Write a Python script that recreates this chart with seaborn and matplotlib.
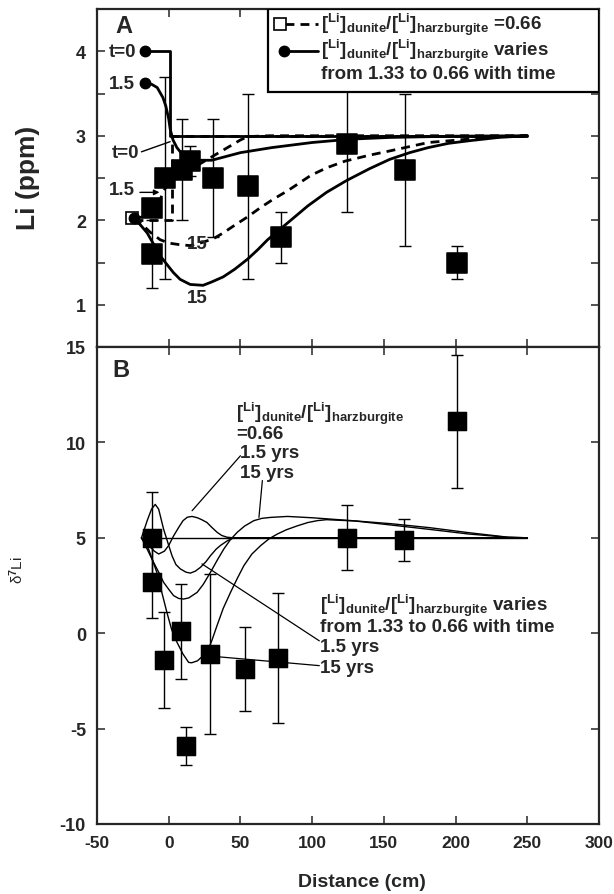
import numpy as np
import pandas as pd
import matplotlib
matplotlib.use('Agg')
import matplotlib.pyplot as plt
import seaborn as sns
from matplotlib.patches import Rectangle

# ---------------- data ----------------
# Panel A : Li concentration (ppm)
a_x = [-12, -12, -2.5, 9, 15, 31, 55, 78.5, 124, 165, 201]
a_li = [1.6, 2.15, 2.5, 2.6, 2.7, 2.5, 2.4, 1.8, 2.9, 2.6, 1.5]
a_err = [0.4, 0.0, 1.2, 0.6, 0.18, 0.7, 1.1, 0.3, 0.8, 0.9, 0.2]

# model curves, panel A (ratio varies : solid)
a_var_t0_x = [-16.4, 1, 1, 250]
a_var_t0_y = [4.0, 4.0, 3.0, 3.0]
a_var_15_x = [-16.4, -12, -8, -4, -2, 0, 1, 3, 5.7, 9, 12.7, 16, 20, 30, 50, 72, 100, 127, 154, 200, 250]
a_var_15_y = [3.62, 3.61, 3.57, 3.45, 3.35, 3.2, 3.08, 2.95, 2.86, 2.79, 2.74, 2.71, 2.71, 2.71, 2.80, 2.86,
              2.92, 2.96, 2.98, 2.995, 3.0]
a_var_150_x = [-24, -20, -15, -10, -6, 0, 3.3, 8, 15, 24, 30, 38, 46, 55, 62, 69, 76, 83, 90, 97, 110, 124,
               140, 154, 168, 181, 195, 209, 230, 250]
a_var_150_y = [2.03, 1.95, 1.85, 1.7, 1.58, 1.45, 1.38, 1.3, 1.24, 1.23, 1.27, 1.33, 1.42, 1.54, 1.65, 1.77,
               1.87, 1.97, 2.07, 2.17, 2.33, 2.47, 2.61, 2.72, 2.8, 2.86, 2.91, 2.94, 2.98, 3.0]
# model curves, panel A (ratio constant 0.66 : dashed)
a_con_t0_x = [-24, 2, 2, 250]
a_con_t0_y = [2.0, 2.0, 3.0, 3.0]
a_con_15_x = [-24, -15, -8, -4, 0, 3, 8, 15, 22, 30, 40, 50, 55, 70, 250]
a_con_15_y = [2.02, 2.05, 2.15, 2.33, 2.45, 2.55, 2.6, 2.63, 2.67, 2.75, 2.85, 2.95, 2.99, 3.0, 3.0]
a_con_150_x = [-24, -18, -13, -6, 0, 8, 15, 22, 31, 38, 45, 55, 64, 73, 83, 99, 110, 123, 140, 154, 181,
               209, 230, 250]
a_con_150_y = [2.03, 1.94, 1.86, 1.77, 1.73, 1.71, 1.70, 1.73, 1.78, 1.85, 1.93, 2.04, 2.15, 2.25, 2.35,
               2.53, 2.62, 2.70, 2.77, 2.82, 2.92, 2.96, 2.985, 3.0]

# Panel B : delta7Li
b_x = [-12, -12, -3.5, 8.5, 12, 29, 53, 76.5, 124, 164, 201]
b_d = [5.0, 2.7, -1.4, 0.1, -5.9, -1.1, -1.9, -1.3, 5.0, 4.9, 11.1]
b_err = [2.4, 1.9, 2.5, 2.5, 1.0, 4.2, 2.2, 3.4, 1.7, 1.1, 3.5]

b_t0_x = [-19, 250]
b_t0_y = [5.0, 5.0]
b_var_15_x = [-19, -15, -12, -9.4, -7, -3.6, 0, 2.3, 5, 8.1, 12, 15.1, 18.5, 22.1, 26, 29.1, 33, 36.1, 41,
              45.4, 250]
b_var_15_y = [5.0, 5.9, 6.5, 6.75, 6.5, 5.46, 4.6, 4.06, 3.6, 3.37, 3.2, 3.15, 3.25, 3.45, 3.75, 4.06, 4.4,
              4.6, 4.85, 5.0, 5.0]
b_con_15_x = [-19, -14, -10, -7, -3, 0, 3.4, 7, 10, 13, 16.3, 20, 23, 26.7, 30, 33.7, 37, 40.7, 45, 250]
b_con_15_y = [5.0, 4.6, 4.3, 4.15, 4.3, 4.6, 5.1, 5.55, 5.9, 6.08, 6.12, 6.05, 5.95, 5.8, 5.55, 5.29, 5.12,
              5.03, 5.0, 5.0]
b_con_150_x = [-19, -15, -10.6, -7, -3.6, 0, 3.4, 7, 10.4, 14, 19.8, 24, 29.1, 34, 38.4, 43, 47.8, 53, 59.4,
               65, 71.1, 82.8, 100, 127.5, 154.8, 182, 209, 236.7, 250]
b_con_150_y = [5.0, 4.4, 3.72, 3.2, 2.67, 2.3, 1.97, 1.82, 1.79, 1.85, 2.14, 2.55, 3.19, 3.85, 4.41, 4.9,
               5.29, 5.62, 5.9, 6.02, 6.07, 6.12, 6.05, 5.9, 5.74, 5.53, 5.27, 5.03, 5.0]
b_var_150_x = [-19, -14, -8.3, -5, -1.3, 2, 5.8, 10, 13.9, 16, 20, 26.7, 30, 33.7, 38, 43.1, 48, 52.4, 58,
               64.1, 70, 75.8, 82, 89.8, 97, 103.7, 110, 130, 155, 182, 209, 236, 250]
b_var_150_y = [5.0, 4.4, 3.19, 2.2, 1.1, 0.2, -0.48, -1.1, -1.53, -1.55, -1.45, -1.0, -0.4, 0.4, 1.3, 2.14,
               2.9, 3.54, 4.15, 4.59, 4.95, 5.2, 5.42, 5.63, 5.8, 5.9, 5.95, 5.88, 5.67, 5.44, 5.2, 5.03, 5.0]

x_ticks = [-50, 0, 50, 100, 150, 200, 250, 300]
a_yticks = [1, 2, 3, 4]
b_yticks = [-10, -5, 0, 5, 10, 15]

ratio_txt = r"[$^{\rm Li}$]$_{\rm dunite}$/[$^{\rm Li}$]$_{\rm harzburgite}$"

# ---------------- style ----------------
sns.set_style('ticks')
plt.rcParams['font.family'] = ['Liberation Sans', 'DejaVu Sans']
plt.rcParams['font.weight'] = 'bold'
plt.rcParams['axes.unicode_minus'] = False
plt.rcParams['mathtext.fontset'] = 'custom'
for k in ['rm', 'it', 'bf', 'sf']:
    plt.rcParams['mathtext.' + k] = 'Liberation Sans:bold'

fig = plt.figure(figsize=(6.14, 8.95), dpi=100)
W, H = 614.0, 895.0
L, R = 97, 599
axA = fig.add_axes([L / W, 1 - 348 / H, (R - L) / W, 338 / H])
axB = fig.add_axes([L / W, 1 - 825 / H, (R - L) / W, 477 / H])

def line(ax, x, y, lw, dashed=False):
    sns.lineplot(x=x, y=y, ax=ax, sort=False, estimator=None, color='black', lw=lw,
                 linestyle='--' if dashed else '-', zorder=2)
    if dashed:
        ax.lines[-1].set_dashes((3.2, 2.2))

# ---- Panel A ----
line(axA, a_var_t0_x, a_var_t0_y, 2.0)
line(axA, a_var_15_x, a_var_15_y, 2.0)
line(axA, a_var_150_x, a_var_150_y, 2.0)
line(axA, a_con_t0_x, a_con_t0_y, 2.0, True)
line(axA, a_con_15_x, a_con_15_y, 2.0, True)
line(axA, a_con_150_x, a_con_150_y, 2.0, True)

axA.errorbar(a_x, a_li, yerr=a_err, fmt='none', ecolor='black', elinewidth=1.0, capsize=4, capthick=1.0,
             zorder=3)
sns.scatterplot(x=a_x, y=a_li, ax=axA, marker='s', s=200, color='black', edgecolor='black', zorder=4,
                legend=False)
# start points of the model curves
axA.plot([-25.8], [2.03], marker='s', ms=9, mfc='white', mec='black', mew=1.2, zorder=5)
axA.plot([-16.4, -16.4, -24], [4.0, 3.62, 2.03], 'o', ms=7.5, color='black', zorder=6)

axA.set_xlim(-50, 300)
axA.set_ylim(0.5, 4.5)
axA.set_yticks(a_yticks)
axA.set_yticks([1.5, 2.5, 3.5], minor=True)
axA.set_xticks(x_ticks)
axA.set_xticklabels([])
axA.set_xlabel('')
axA.set_ylabel('')

fs_lab = 13.5
axA.text(-37, 4.3, 'A', fontsize=17, fontweight='bold', va='center', ha='left')
axA.text(-41.5, 4.0, 't=0', fontsize=fs_lab, va='center', ha='left')
axA.text(-41.5, 3.62, '1.5', fontsize=fs_lab, va='center', ha='left')
axA.text(-40, 2.8, 't=0', fontsize=fs_lab, va='center', ha='left')
axA.plot([-19, 1], [2.81, 2.93], color='black', lw=1.0)
axA.text(-41.5, 2.36, '1.5', fontsize=fs_lab, va='center', ha='left')
axA.annotate('', xy=(-4.5, 2.33), xytext=(-22, 2.33),
             arrowprops=dict(arrowstyle='-|>', color='black', lw=1.0, mutation_scale=8))
axA.text(20, 1.72, '15', fontsize=fs_lab, va='center', ha='center')
axA.text(20, 1.08, '15', fontsize=fs_lab, va='center', ha='center')

# legend box
axA.add_patch(Rectangle((69.2, 3.52), 300 - 69.2, 0.98, fc='white', ec='black', lw=1.6, zorder=7))
axA.plot([77.4], [4.32], marker='s', ms=9, mfc='white', mec='black', mew=1.2, zorder=9)
lg1, = axA.plot([81, 104], [4.32, 4.32], color='black', lw=2.0, ls='--', zorder=8)
lg1.set_dashes((3.2, 2.2))
axA.plot([80.7], [4.0], 'o', ms=7.5, color='black', zorder=9)
axA.plot([81, 104], [4.0, 4.0], color='black', lw=2.0, zorder=8)
fs_leg = 13.5
axA.text(106, 4.32, ratio_txt + ' =0.66', fontsize=fs_leg, va='center', ha='left', zorder=9)
axA.text(106, 4.02, ratio_txt + ' varies', fontsize=fs_leg, va='center', ha='left', zorder=9)
axA.text(106, 3.74, 'from 1.33 to 0.66 with time', fontsize=fs_leg, va='center', ha='left', zorder=9)

# ---- Panel B ----
for xs, ys in [(b_t0_x, b_t0_y), (b_var_15_x, b_var_15_y), (b_con_15_x, b_con_15_y),
               (b_con_150_x, b_con_150_y), (b_var_150_x, b_var_150_y)]:
    line(axB, xs, ys, 1.0)

axB.errorbar(b_x, b_d, yerr=b_err, fmt='none', ecolor='black', elinewidth=1.0, capsize=4, capthick=1.0,
             zorder=3)
sns.scatterplot(x=b_x, y=b_d, ax=axB, marker='s', s=180, color='black', edgecolor='black', zorder=4,
                legend=False)

axB.set_xlim(-50, 300)
axB.set_ylim(-10, 15)
axB.set_xticks(x_ticks)
axB.set_yticks(b_yticks)
axB.set_xlabel('')
axB.set_ylabel('')

axB.text(-39, 13.8, 'B', fontsize=17, fontweight='bold', va='center', ha='left')
fs_b = 13.5
axB.text(47, 11.55, ratio_txt, fontsize=fs_b, va='center', ha='left')
axB.text(47, 10.45, '=0.66', fontsize=fs_b, va='center', ha='left')
axB.text(50, 9.45, '1.5 yrs', fontsize=fs_b, va='center', ha='left')
axB.text(50, 8.4, '15 yrs', fontsize=fs_b, va='center', ha='left')
axB.plot([50, 16.3], [9.3, 6.42], color='black', lw=0.9)
axB.plot([65.3, 62.9], [8.0, 6.07], color='black', lw=0.9)

axB.text(105.5, 1.5, ratio_txt + ' varies', fontsize=fs_b, va='center', ha='left')
axB.text(105.5, 0.35, 'from 1.33 to 0.66 with time', fontsize=fs_b, va='center', ha='left')
axB.text(105.5, -0.68, '1.5 yrs', fontsize=fs_b, va='center', ha='left')
axB.text(105.5, -1.78, '15 yrs', fontsize=fs_b, va='center', ha='left')
axB.plot([105, 23.2], [-0.4, 3.63], color='black', lw=0.9)
axB.plot([105, 29], [-1.7, -1.2], color='black', lw=0.9)

# ---- axes cosmetics ----
for ax in (axA, axB):
    for sp in ax.spines.values():
        sp.set_visible(True)
        sp.set_linewidth(1.6)
    ax.tick_params(which='both', direction='in', length=6, width=1.1, top=True, right=True,
                   labelsize=13, pad=8)
    for lab in ax.get_xticklabels() + ax.get_yticklabels():
        lab.set_fontweight('bold')
axA.tick_params(labelbottom=False)
axB.tick_params(axis='x', labelsize=12.5)

fig.text(28 / W, 1 - 178 / H, 'Li (ppm)', rotation=90, fontsize=19, fontweight='bold',
         ha='center', va='center')
fig.text(17 / W, 1 - 570 / H, 'δ$^{7}$Li', rotation=90, fontsize=11, fontweight='normal',
         ha='center', va='center')
fig.text(362 / W, 1 - 883 / H, 'Distance (cm)', fontsize=14, fontweight='bold', ha='center', va='center')

fig.savefig('out.png', dpi=100)
